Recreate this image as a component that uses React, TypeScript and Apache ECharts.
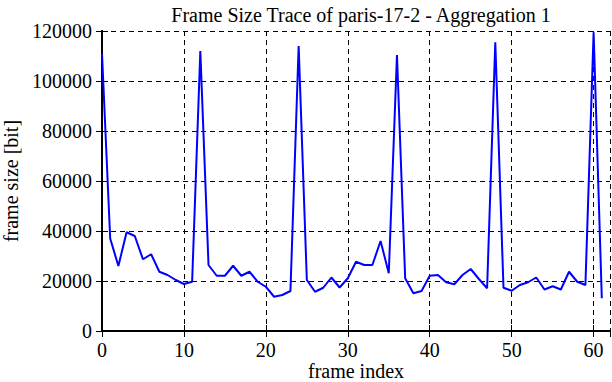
import React, { useEffect, useRef } from "react";
import * as echarts from "echarts";

const frameIndex: number[] = Array.from({ length: 62 }, (_, i) => i);
const frameSize: number[] = [
  111000, 37000, 26000, 39500, 38000, 28700, 30700, 23700, 22400, 20400,
  18800, 19700, 112000, 26400, 22100, 22100, 26100, 22100, 23700, 19700,
  17700, 13700, 14400, 16000, 114000, 20400, 15700, 17300, 21400, 17400,
  21100, 27700, 26400, 26400, 36000, 23100, 110400, 21100, 15100, 16000,
  22100, 22400, 19500, 18700, 22400, 24800, 20800, 17100, 115500, 17300,
  16100, 18400, 19500, 21400, 16600, 17900, 16600, 23700, 19700, 18400,
  119500, 13100,
];
const xTicks: number[] = [0, 10, 20, 30, 40, 50, 60];
const yTicks: number[] = [0, 20000, 40000, 60000, 80000, 100000, 120000];

const FONT = "Liberation Serif";

export default function App() {
  const ref = useRef<HTMLDivElement>(null);
  useEffect(() => {
    document.body.style.margin = "0";
    if (!ref.current) return;
    const chart = echarts.init(ref.current, null, { renderer: "svg" });
    const axisLine = { show: true, lineStyle: { color: "#000", width: 2 } };
    const tick = { show: true, inside: true, length: 6, lineStyle: { color: "#000", width: 1 } };
    const dashed = { show: true, lineStyle: { color: "#000", width: 1, type: [5, 4] as any } };
    const label = {
      color: "#000",
      fontFamily: FONT,
      fontSize: 20,
    };
    chart.setOption({
      animation: false,
      backgroundColor: "#fff",
      title: {
        text: "Frame Size Trace of paris-17-2 - Aggregation 1",
        left: 356,
        textAlign: "center",
        top: 0,
        textStyle: { color: "#000", fontFamily: FONT, fontSize: 20, fontWeight: "normal" },
      },
      grid: { left: 102, right: 2, top: 31, bottom: 51, containLabel: false, outerBoundsMode: "none" },
      xAxis: [
        {
          type: "value",
          min: 0,
          max: 62,
          interval: 10,
          position: "bottom",
          name: "frame index",
          nameLocation: "middle",
          nameGap: 30,
          nameMoveOverlap: false,
          nameTextStyle: { color: "#000", fontFamily: FONT, fontSize: 20, lineHeight: 20 },
          axisLine,
          axisTick: tick,
          splitLine: dashed,
          axisLabel: {
            ...label,
            margin: 9,
            showMaxLabel: false,
            formatter: (v: number) => (xTicks.includes(v) ? String(v) : ""),
          },
        },
        {
          type: "value",
          min: 0,
          max: 62,
          interval: 10,
          position: "top",
          axisLine,
          axisTick: tick,
          splitLine: { show: false },
          axisLabel: { show: false },
        },
      ],
      yAxis: [
        {
          type: "value",
          min: 0,
          max: 120000,
          interval: 20000,
          position: "left",
          name: "frame size [bit]",
          nameLocation: "middle",
          nameGap: 81,
          nameMoveOverlap: false,
          nameTextStyle: { color: "#000", fontFamily: FONT, fontSize: 20 },
          axisLine,
          axisTick: tick,
          splitLine: dashed,
          axisLabel: {
            ...label,
            margin: 10,
            formatter: (v: number) => (yTicks.includes(v) ? String(v) : ""),
          },
        },
        {
          type: "value",
          min: 0,
          max: 120000,
          interval: 20000,
          position: "right",
          axisLine,
          axisTick: tick,
          splitLine: { show: false },
          axisLabel: { show: false },
        },
      ],
      series: [
        {
          type: "line",
          xAxisIndex: 0,
          yAxisIndex: 0,
          data: frameIndex.map((x, i) => [x, frameSize[i]]),
          showSymbol: false,
          symbol: "none",
          lineStyle: { color: "#0000ff", width: 2 },
          clip: true,
        },
      ],
    });
    return () => chart.dispose();
  }, []);
  return <div ref={ref} style={{ width: 612, height: 382 }} />;
}
